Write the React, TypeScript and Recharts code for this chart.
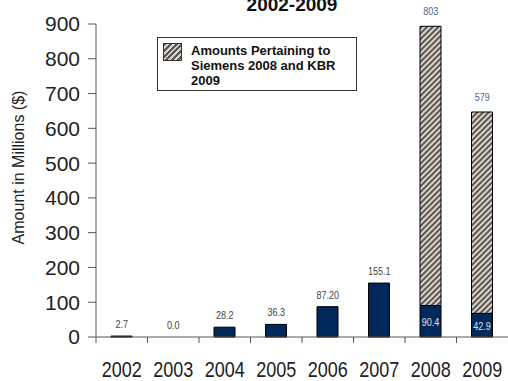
import React from "react";
import {
  Bar,
  ComposedChart,
  LabelList,
  Line,
  XAxis,
  YAxis,
} from "recharts";

const years = ["2002", "2003", "2004", "2005", "2006", "2007", "2008", "2009"];
// bar heights as drawn in the picture
const baseValues = [2.7, 0, 28.2, 36.3, 87.2, 155.1, 90.4, 68];
const pertainingValues = [0, 0, 0, 0, 0, 0, 803, 579];
// printed labels
const baseLabels = ["2.7", "0.0", "28.2", "36.3", "87.20", "155.1", "90.4", "42.9"];
const pertainingLabels = ["", "", "", "", "", "", "803", "579"];
const yTicks = [0, 100, 200, 300, 400, 500, 600, 700, 800, 900];

const NAVY = "#00285a";
const AXIS = "#555";
const SANS = "'Liberation Sans', Arial, sans-serif";

const data = years.map((year, i) => ({
  year,
  base: baseValues[i],
  pertaining: pertainingValues[i],
  total: baseValues[i] + pertainingValues[i],
  topLabel: pertainingValues[i] > 0 ? undefined : baseLabels[i],
  innerLabel: pertainingValues[i] > 0 ? baseLabels[i] : undefined,
  pertainingLabel: pertainingLabels[i] || undefined,
}));

// condensed text: regular sans squeezed horizontally
function NarrowText({ x, y, children, fill, fontSize, ratio = 0.82 }: any) {
  return (
    <text
      x={x}
      y={y}
      textAnchor="middle"
      fill={fill}
      fontSize={fontSize}
      fontFamily={SANS}
      transform={`translate(${x},${y}) scale(${ratio},1) translate(${-x},${-y})`}
    >
      {children}
    </text>
  );
}

function YearTick(props: any) {
  const { x, y, payload } = props;
  const half = payload?.offset ?? 25.75;
  return (
    <g>
      <line x1={x - half} x2={x - half} y1={y} y2={y + 6} stroke={AXIS} strokeWidth={1} />
      <NarrowText x={x} y={y + 40} fill="#222" fontSize={22}>
        {payload.value}
      </NarrowText>
    </g>
  );
}

const topLabel = (color: string, gap: number) => (props: any) => {
  const { x, y, value } = props;
  if (value == null || value === "") return null;
  return (
    <NarrowText x={x} y={y - gap} fill={color} fontSize={11}>
      {value}
    </NarrowText>
  );
};

function InnerLabel(props: any) {
  const { x, y, width, height, value } = props;
  if (value == null || value === "") return null;
  return (
    <NarrowText x={x + width / 2} y={y + height / 2 + 5} fill="#dde4ee" fontSize={11}>
      {value}
    </NarrowText>
  );
}

function YTitle(props: any) {
  const { viewBox } = props;
  const cx = 24;
  const cy = viewBox.y + viewBox.height / 2 - 13;
  return (
    <text
      x={cx}
      y={cy}
      textAnchor="middle"
      fill="#222"
      fontSize={16}
      fontFamily={SANS}
      transform={`rotate(-90 ${cx} ${cy})`}
    >
      Amount in Millions ($)
    </text>
  );
}

function HatchLegend() {
  return (
    <div
      style={{
        position: "absolute",
        left: 157,
        top: 37,
        width: 198,
        height: 52,
        border: "1px solid #333",
        background: "#fff",
      }}
    >
      <div
        style={{
          position: "absolute",
          left: 5,
          top: 5,
          width: 17,
          height: 16,
          border: "1px solid #333",
          background:
            "repeating-linear-gradient(135deg, #5e5650 0px, #5e5650 2px, #d8d4ce 2px, #d8d4ce 4px)",
        }}
      />
      <div
        style={{
          position: "absolute",
          left: 33,
          top: 5,
          fontFamily: SANS,
          fontWeight: "bold",
          fontSize: 13,
          lineHeight: "15px",
          color: "#111",
        }}
      >
        Amounts Pertaining to
        <br />
        Siemens 2008 and KBR
        <br />
        2009
      </div>
    </div>
  );
}

export default function App() {
  return (
    <div style={{ position: "absolute", left: 0, top: 0, width: 508, height: 381, background: "#fff" }}>
      <ComposedChart
        width={508}
        height={381}
        data={data}
        margin={{ top: 24, right: 0, left: 0, bottom: 0 }}
        barSize={21}
      >
        <defs>
          <pattern
            id="hatch"
            patternUnits="userSpaceOnUse"
            width={4}
            height={4}
            patternTransform="rotate(45)"
          >
            <rect x={0} y={0} width={4} height={4} fill="#d8d4ce" />
            <rect x={0} y={0} width={2} height={4} fill="#5e5650" />
          </pattern>
        </defs>
        <XAxis
          dataKey="year"
          height={44}
          interval={0}
          tickLine={false}
          tickSize={0}
          tickMargin={0}
          axisLine={{ stroke: AXIS }}
          tick={<YearTick />}
        />
        <YAxis
          width={96}
          domain={[0, 900]}
          ticks={yTicks}
          interval={0}
          tickSize={8}
          tickMargin={8}
          axisLine={{ stroke: AXIS }}
          tickLine={{ stroke: AXIS }}
          tick={{ fill: "#222", fontSize: 21, fontFamily: SANS }}
          label={<YTitle />}
        />
        <Bar
          dataKey="base"
          stackId="a"
          fill={NAVY}
          stroke="#000"
          strokeWidth={1}
          isAnimationActive={false}
        >
          <LabelList dataKey="innerLabel" content={InnerLabel} />
        </Bar>
        <Bar
          dataKey="pertaining"
          stackId="a"
          fill="url(#hatch)"
          stroke="#000"
          strokeWidth={1}
          isAnimationActive={false}
        />
        {/* invisible line carrying the labels above each stack */}
        <Line
          dataKey="total"
          stroke="none"
          dot={false}
          activeDot={false}
          isAnimationActive={false}
        >
          <LabelList dataKey="topLabel" content={topLabel("#444", 8)} />
          <LabelList dataKey="pertainingLabel" content={topLabel("#4a6892", 11)} />
        </Line>
      </ComposedChart>
      <HatchLegend />
      <div
        style={{
          position: "absolute",
          left: 192,
          width: 200,
          top: -5,
          textAlign: "center",
          fontFamily: SANS,
          fontWeight: "bold",
          fontSize: 19,
          lineHeight: "19px",
          color: "#111",
        }}
      >
        2002-2009
      </div>
    </div>
  );
}
